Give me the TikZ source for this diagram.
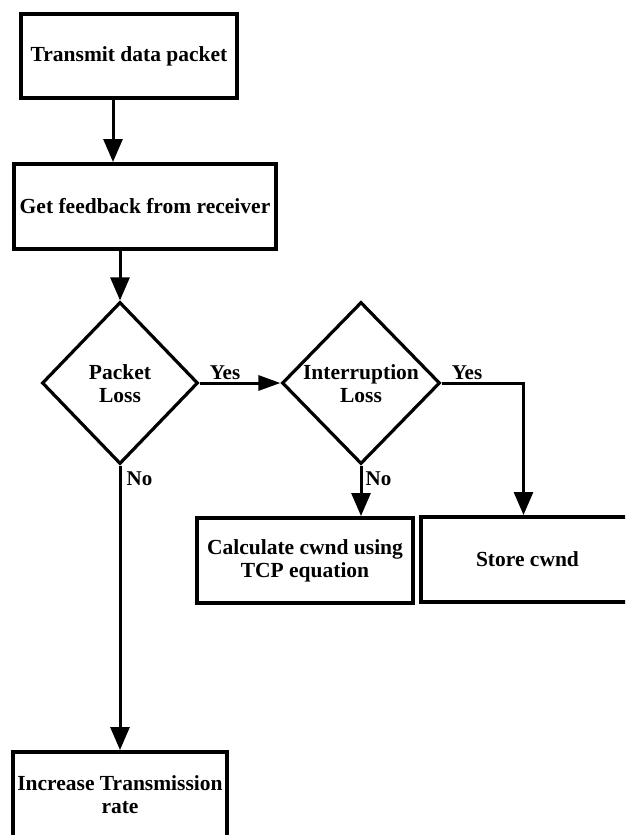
\documentclass[tikz,border=0pt]{standalone}
\usepackage{fontspec}
\setmainfont{Liberation Serif}
\usetikzlibrary{shapes.geometric,arrows.meta}

\tikzset{
  txt/.style={font=\fontsize{21.5}{23}\selectfont\bfseries, align=center, inner sep=0pt},
  stepbox/.style={draw, line width=4pt, rectangle, inner sep=0pt, txt},
  decision/.style={draw, line width=3.2pt, diamond, inner sep=0pt},
  flow/.style={line width=3pt, -{Triangle[length=23pt,width=19pt]}},
  flowh/.style={line width=3pt, -{Triangle[length=22pt,width=15pt]}},
  lbl/.style={font=\fontsize{21}{22}\selectfont\bfseries, inner sep=0pt}
}

\begin{document}
\begin{tikzpicture}[x=1pt,y=-1pt]
  \clip (0,0) rectangle (625,835);
  \fill[white] (0,0) rectangle (625,835);

  % process boxes
  \node[stepbox, minimum width=216pt, minimum height=84pt] (b1) at (129,56) {Transmit data packet};
  \node[stepbox, minimum width=262pt, minimum height=85pt] (b2) at (145,206.5) {Get feedback from receiver};
  \node[stepbox, minimum width=216pt, minimum height=85pt] (calc) at (305,560.5) {Calculate cwnd using\\TCP equation};
  \node[stepbox, minimum width=213pt, minimum height=85pt] (st) at (527.5,559.5) {Store cwnd};
  \node[stepbox, minimum width=214pt, minimum height=85pt] (inc) at (120,794.5) {Increase Transmission\\rate};

  % decisions
  \node[decision, minimum width=156pt, minimum height=162pt] (d1) at (120,383) {};
  \node[txt] (d1t) at (120,384) {Packet\\Loss};
  \node[decision, minimum width=158pt, minimum height=162pt] (d2) at (361,383) {};
  \node[txt] (d2t) at (361,384) {Interruption\\Loss};

  % connectors
  \draw[flow] ([xshift=-16pt]b1.south) -- ([xshift=-16pt]b1.south |- b2.north);
  \draw[flow] (b2.south -| d1.north) -- (d1.north);
  \draw[flowh] (d1.east) -- (d2.west);
  \draw[flow] (d2.east) -| ([xshift=-4pt]st.north);
  \draw[flow] (d2.south) -- (d2.south |- calc.north);
  \draw[flow] (d1.south) -- (inc.north);

  % branch labels
  \node[lbl] (y1) at (225,373) {Yes};
  \node[lbl] (y2) at (467,373) {Yes};
  \node[lbl] (n1) at (139.5,479) {No};
  \node[lbl] (n2) at (378.5,479) {No};
\end{tikzpicture}
\end{document}
